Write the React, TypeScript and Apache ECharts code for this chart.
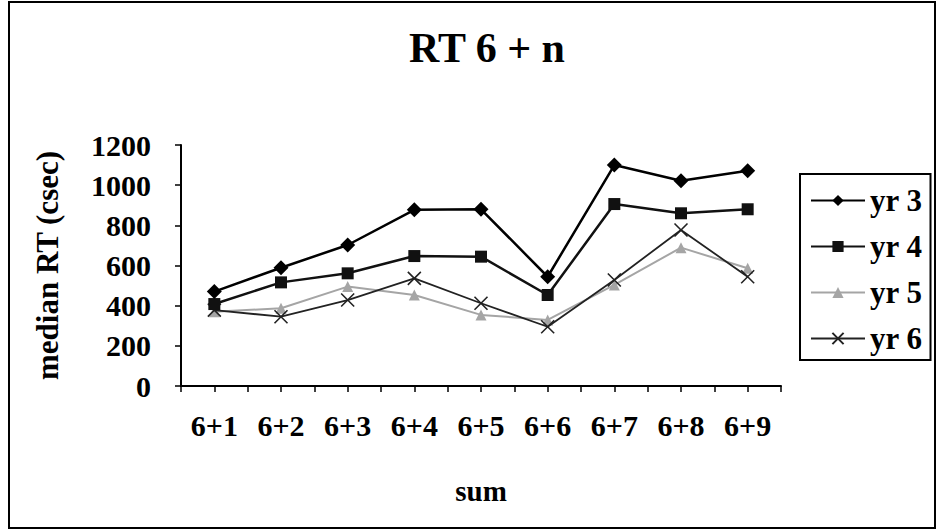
import React, { useEffect, useRef } from "react";
import * as echarts from "echarts";

const categories = ["6+1", "6+2", "6+3", "6+4", "6+5", "6+6", "6+7", "6+8", "6+9"];
const yr3 = [470, 589, 702, 877, 880, 544, 1100, 1022, 1072];
const yr4 = [408, 516, 561, 647, 644, 453, 906, 860, 880];
const yr5 = [370, 387, 495, 453, 354, 329, 503, 689, 586];
const yr6 = [378, 345, 428, 536, 412, 295, 528, 777, 544];
const seriesNames = ["yr 3", "yr 4", "yr 5", "yr 6"];
const yTicks = [0, 200, 400, 600, 800, 1000, 1200];

const FONT = "'Liberation Serif', 'Times New Roman', serif";

export default function App() {
  const ref = useRef<HTMLDivElement>(null);
  useEffect(() => {
    if (!ref.current) return;
    const chart = echarts.init(ref.current, undefined, { renderer: "svg" });
    const toPairs = (arr: number[]) => arr.map((v, i) => [i + 1, v]);
    const xCross = "path://M0,0L10,10M10,0L0,10";
    chart.setOption({
      animation: false,
      backgroundColor: "#fff",
      textStyle: { fontFamily: FONT },
      title: {
        text: "RT 6 + n",
        left: 482,
        top: 22,
        textAlign: "center",
        textStyle: { fontFamily: FONT, fontWeight: "bold", fontSize: 42, color: "#000" },
      },
      graphic: [
        {
          type: "rect",
          shape: { x: 9, y: 2, width: 926, height: 526 },
          style: { fill: "none", stroke: "#000", lineWidth: 2 },
          silent: true,
          z: -1,
        },
      ],
      legend: {
        orient: "vertical",
        left: 800,
        top: 174,
        padding: [11, 8, 6, 10],
        itemGap: 15,
        itemWidth: 54,
        itemHeight: 14,
        borderColor: "#000",
        borderWidth: 2,
        backgroundColor: "#fff",
        data: seriesNames,
        textStyle: { fontFamily: FONT, fontWeight: "bold", fontSize: 31, color: "#000", lineHeight: 29 },
      },
      grid: { left: 181, right: 156, top: 145, bottom: 145, containLabel: false },
      xAxis: {
        type: "value",
        min: 0.5,
        max: 9.5,
        interval: 0.5,
        name: "sum",
        nameLocation: "middle",
        nameGap: 90,
        nameTextStyle: { fontFamily: FONT, fontWeight: "bold", fontSize: 29, color: "#000" },
        splitLine: { show: false },
        axisLine: { show: true, lineStyle: { color: "#000", width: 2 } },
        axisTick: { show: true, inside: false, length: 6, lineStyle: { color: "#000", width: 1.5 } },
        axisLabel: {
          margin: 24,
          fontFamily: FONT,
          fontWeight: "bold",
          fontSize: 30,
          color: "#000",
          formatter: (v: number) => (Number.isInteger(v) ? categories[v - 1] ?? "" : ""),
        },
      },
      yAxis: {
        type: "value",
        min: 0,
        max: 1200,
        interval: 200,
        name: "median RT (csec)",
        nameLocation: "middle",
        nameGap: 118,
        nameTextStyle: { fontFamily: FONT, fontWeight: "bold", fontSize: 31, color: "#000" },
        splitLine: { show: false },
        axisLine: { show: true, lineStyle: { color: "#000", width: 2 } },
        axisTick: { show: true, inside: false, length: 6, lineStyle: { color: "#000", width: 1.5 } },
        axisLabel: {
          margin: 30,
          fontFamily: FONT,
          fontWeight: "bold",
          fontSize: 30,
          color: "#000",
          formatter: (v: number) => (yTicks.includes(v) ? String(v) : ""),
        },
      },
      series: [
        {
          name: seriesNames[0],
          type: "line",
          data: toPairs(yr3),
          symbol: "diamond",
          symbolSize: 15,
          lineStyle: { color: "#000", width: 2.5 },
          itemStyle: { color: "#000" },
          z: 5,
        },
        {
          name: seriesNames[1],
          type: "line",
          data: toPairs(yr4),
          symbol: "rect",
          symbolSize: 12,
          lineStyle: { color: "#111", width: 2.5 },
          itemStyle: { color: "#111" },
          z: 4,
        },
        {
          name: seriesNames[2],
          type: "line",
          data: toPairs(yr5),
          symbol: "triangle",
          symbolSize: 11,
          lineStyle: { color: "#a5a5a5", width: 2 },
          itemStyle: { color: "#a5a5a5" },
          z: 2,
        },
        {
          name: seriesNames[3],
          type: "line",
          data: toPairs(yr6),
          symbol: xCross,
          symbolSize: 13,
          lineStyle: { color: "#222", width: 1.8 },
          itemStyle: { color: "none", borderColor: "#222", borderWidth: 1.6 },
          z: 3,
        },
      ],
    });
    return () => chart.dispose();
  }, []);
  return (
    <div
      ref={ref}
      style={{ position: "fixed", left: 0, top: 0, width: 937, height: 531, background: "#fff" }}
    />
  );
}
